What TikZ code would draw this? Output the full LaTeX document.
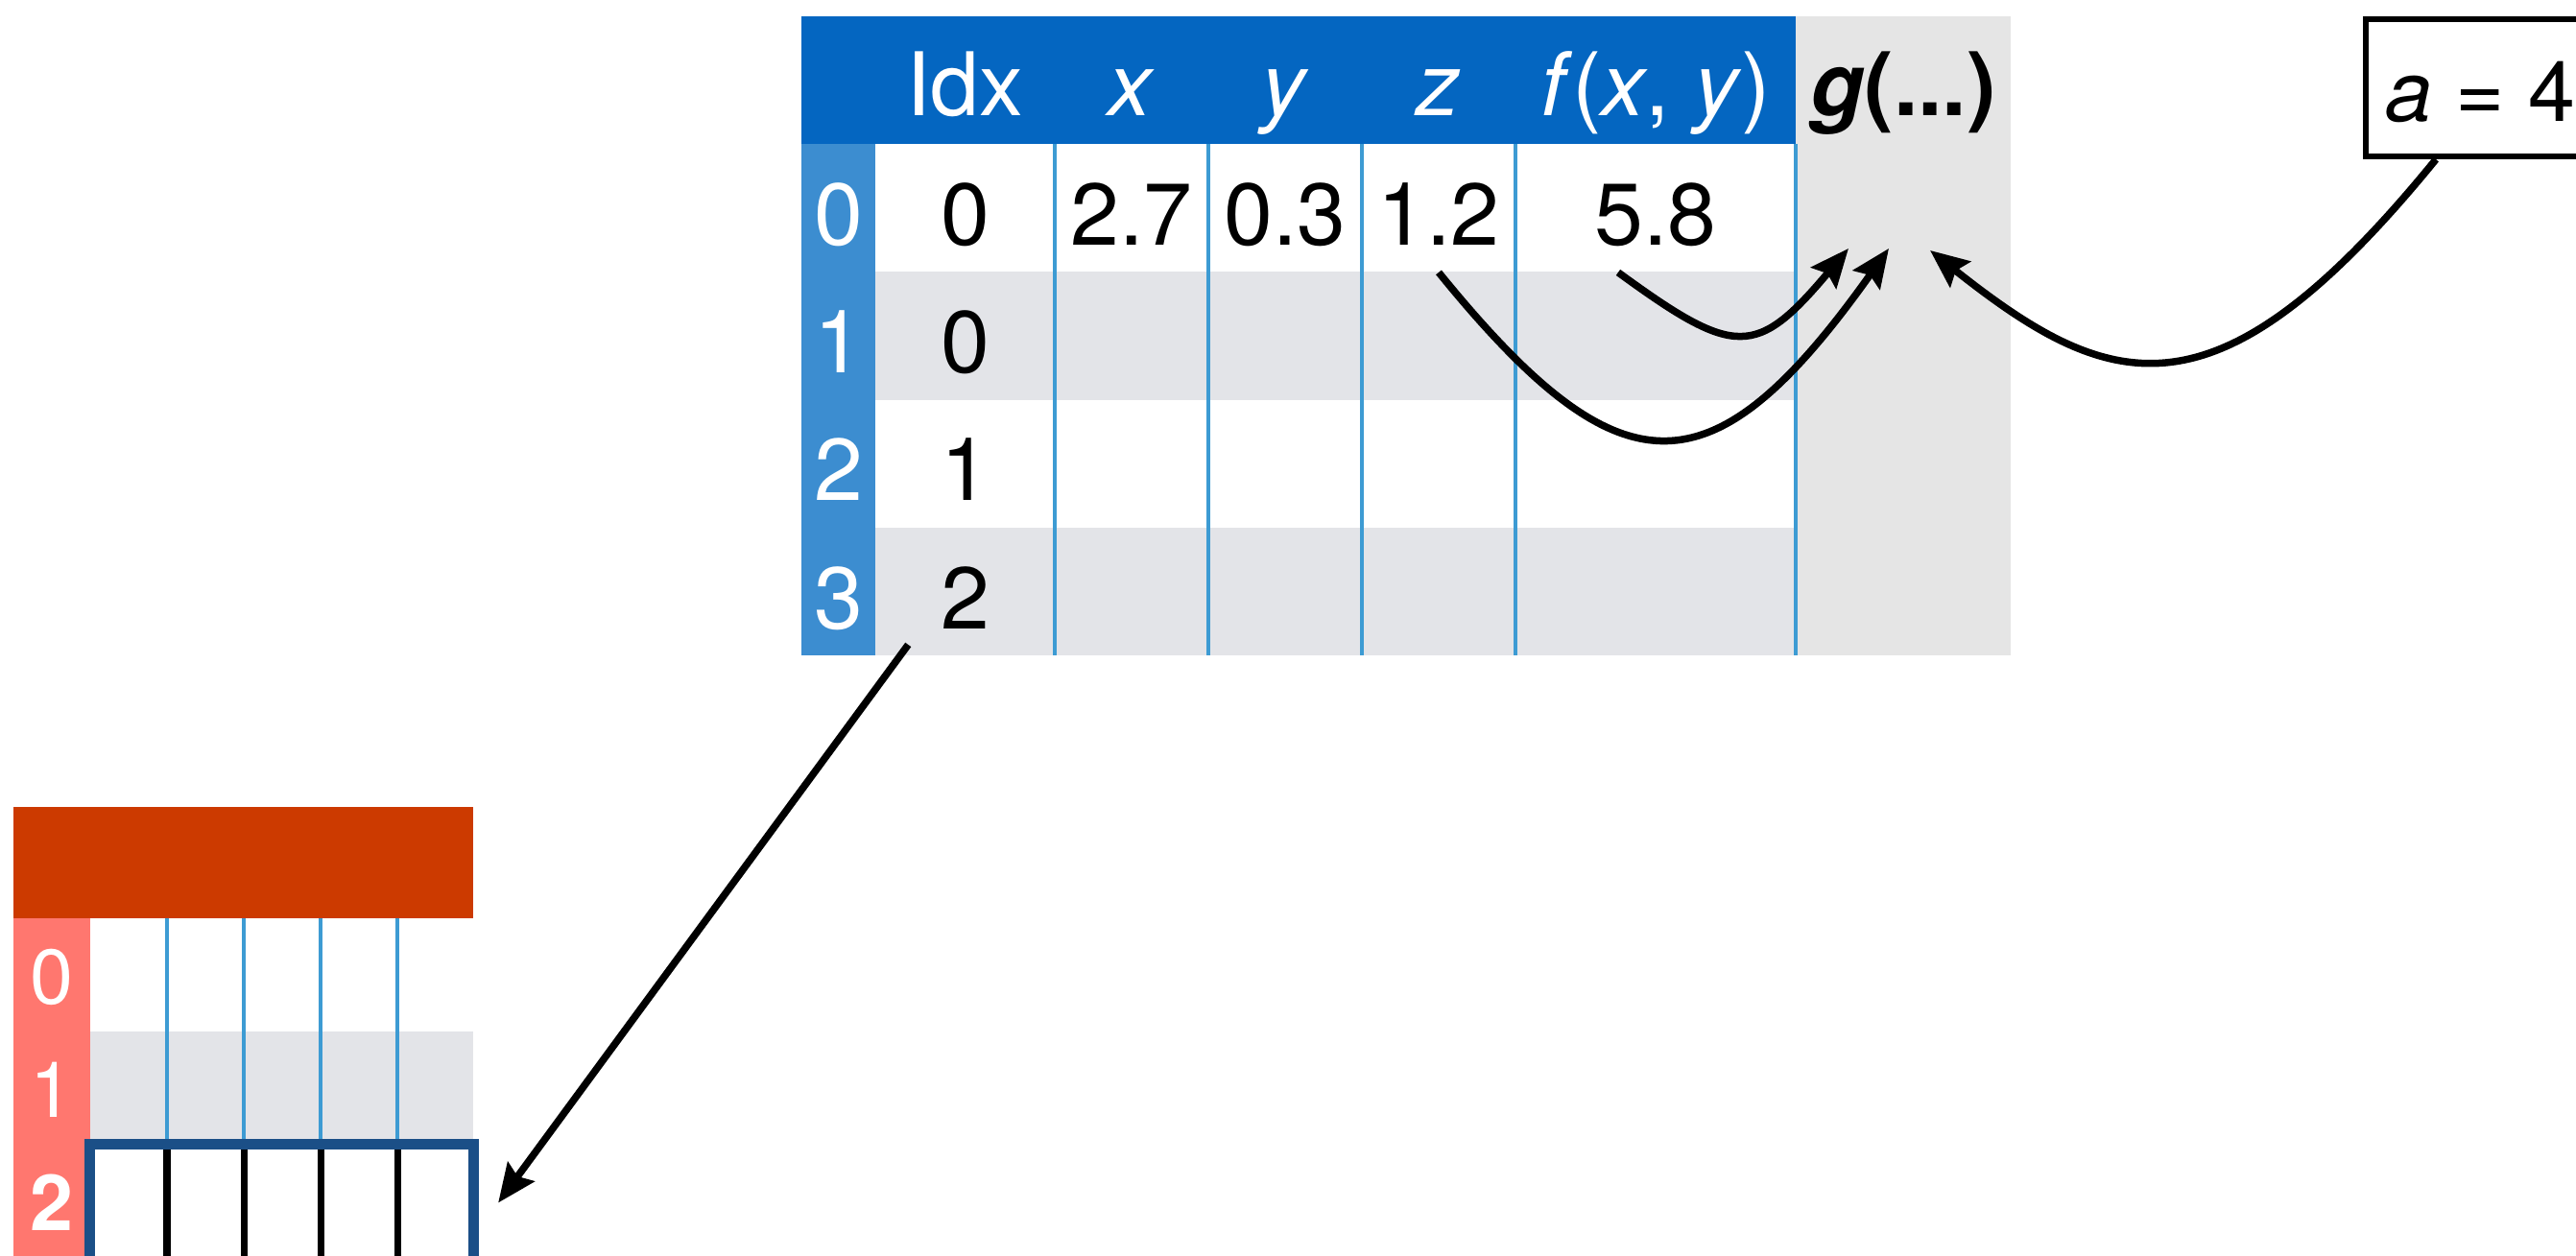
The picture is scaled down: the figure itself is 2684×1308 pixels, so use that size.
\documentclass[tikz,border=0pt]{standalone}
\usepackage{fontspec}
\setmainfont{TeX Gyre Heros}
\usetikzlibrary{arrows.meta, positioning, calc}
\definecolor{hdrblue}{HTML}{0466C1}
\definecolor{idxblue}{HTML}{3C8DD0}
\definecolor{gridblue}{HTML}{3D9BD3}
\definecolor{rowgray}{HTML}{E3E4E8}
\definecolor{colgray}{HTML}{E5E5E5}
\definecolor{hdrred}{HTML}{CC3A00}
\definecolor{idxred}{HTML}{FF776F}
\definecolor{boxblue}{HTML}{1B4F87}
\newcommand{\bigtxt}{\fontsize{26}{30}\selectfont}
\newcommand{\midtxt}{\fontsize{25}{29}\selectfont}
\newcommand{\smalltxt}{\fontsize{23}{27}\selectfont}

\begin{document}
\begin{tikzpicture}[
    x=0.01cm, y=-0.01cm,
    >=Stealth,
    band/.style={draw=none, inner sep=0pt, minimum width=#1},
    hcell/.style={inner sep=0pt, minimum width=#1, minimum height=1.333cm,
                  text height=0.74cm, text depth=0pt, font=\bigtxt, text=white},
    cell/.style={inner sep=0pt, minimum width=#1, minimum height=1.333cm,
                 text height=0.77cm, text depth=0pt, font=\bigtxt},
    bcell/.style={inner sep=0pt, minimum width=0.8cm, minimum height=1.18cm,
                  text height=0.61cm, text depth=0pt, font=\smalltxt, text=white},
    grid/.style={gridblue, line width=0.035cm},
    link/.style={-{Stealth[length=0.4cm, width=0.34cm, inset=0.06cm]},
                 line width=0.075cm},
]
\clip (0,0) rectangle (2684,1308);

% ════════════════════════════════════════════════════════════
% TOP TABLE
% ════════════════════════════════════════════════════════════
\node[band=10.36cm, minimum height=1.33cm, fill=hdrblue] (hdr) at (1353,83.5) {};
\node[band=2.24cm, minimum height=6.66cm, fill=colgray] (gcol) at (1983,350) {};
\node[band=0.77cm, minimum height=5.33cm, fill=idxblue] (idxcol) at (873.5,416.5) {};
\node[band=9.59cm, minimum height=1.333cm, fill=rowgray] (row1) at (1391.5,349.8) {};
\node[band=9.59cm, minimum height=1.333cm, fill=rowgray] (row3) at (1391.5,616.5) {};

\draw[grid] (1099,150) -- (1099,683);
\draw[grid] (1259,150) -- (1259,683);
\draw[grid] (1419,150) -- (1419,683);
\draw[grid] (1579,150) -- (1579,683);
\draw[grid] (1871,150) -- (1871,683);

% ── header ──
\node[hcell=1.87cm] (hidx) at (1005.5,83.5) {Idx};
\node[hcell=1.6cm] (hx) at (1179,83.5) {\textit{x}};
\node[hcell=1.6cm] (hy) at (1339,83.5) {\textit{y}};
\node[hcell=1.6cm] (hz) at (1499,83.5) {\textit{z}};
\node[hcell=2.92cm] (hf) at (1725,83.5) {\textit{f}(\textit{x}, \textit{y})};
\node[hcell=2.24cm, text=black] (hg) at (1983,83.5) {\textbf{\textit{g}(...)}};

% ── row labels ──
\node[cell=0.77cm, text=white] (r0) at (873.5,216.5) {0};
\node[cell=0.77cm, text=white] (r1) at (873.5,349.8) {1};
\node[cell=0.77cm, text=white] (r2) at (873.5,483.2) {2};
\node[cell=0.77cm, text=white] (r3) at (873.5,616.5) {3};

% ── cells ──
\node[cell=1.87cm] (idx0) at (1005.5,216.5) {0};
\node[cell=1.87cm] (idx1) at (1005.5,349.8) {0};
\node[cell=1.87cm] (idx2) at (1005.5,483.2) {1};
\node[cell=1.87cm] (idx3) at (1005.5,616.5) {2};
\node[cell=1.6cm] (x0) at (1179,216.5) {2.7};
\node[cell=1.6cm] (y0) at (1339,216.5) {0.3};
\node[cell=1.6cm] (z0) at (1499,216.5) {1.2};
\node[cell=2.92cm] (f0) at (1725,216.5) {5.8};

% ════════════════════════════════════════════════════════════
% PARAMETER BOX
% ════════════════════════════════════════════════════════════
\node[draw, line width=0.06cm, anchor=north west, minimum height=1.43cm,
      inner xsep=0.2cm, text height=0.69cm, text depth=0pt, font=\midtxt]
    (abox) at (2462,17) {\textit{a} = 4};

% ════════════════════════════════════════════════════════════
% BOTTOM TABLE
% ════════════════════════════════════════════════════════════
\node[band=4.79cm, minimum height=1.16cm, fill=hdrred] (bhdr) at (253.5,899) {};
\node[band=0.8cm, minimum height=3.58cm, fill=idxred] (bidxcol) at (54,1136) {};
\node[band=3.99cm, minimum height=1.18cm, fill=rowgray] (brow1) at (293.5,1134) {};

\draw[grid] (174,957) -- (174,1193);
\draw[grid] (254,957) -- (254,1193);
\draw[grid] (334,957) -- (334,1193);
\draw[grid] (414,957) -- (414,1193);

\node[band=4.0cm, minimum height=1.21cm, fill=white, draw=boxblue,
      line width=0.11cm] (rowbox) at (293.5,1253.5) {};
\draw[line width=0.07cm] (174,1198) -- (174,1310);
\draw[line width=0.07cm] (254,1198) -- (254,1310);
\draw[line width=0.07cm] (334,1198) -- (334,1310);
\draw[line width=0.07cm] (414,1198) -- (414,1310);

\node[bcell] (b0) at (54,1016) {0};
\node[bcell] (b1) at (54,1134) {1};
\node[bcell] (b2) at (54,1251.5) {\bfseries 2};

% ── connectors ──
\draw[link] (z0.south) .. controls +(190,234) and +(-184,259)
    .. ([xshift=-0.15cm, yshift=-1.08cm]hg.south);
\draw[link] ([xshift=-0.39cm]f0.south) .. controls +(122,89) and +(-96,114)
    .. ([xshift=-0.57cm, yshift=-1.08cm]hg.south);
\draw[link] ([xshift=0.76cm]abox.south west) .. controls +(-228,280) and +(189,150)
    .. ([xshift=0.28cm, yshift=-1.1cm]hg.south);
\draw[link] ([xshift=0.35cm, yshift=0.12cm]idx3.south west)
    -- ([xshift=0.2cm]rowbox.east);

\end{tikzpicture}
\end{document}
